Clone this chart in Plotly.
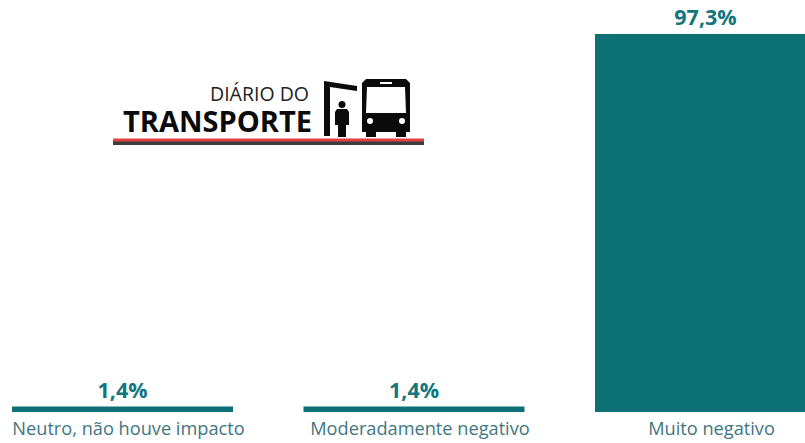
import plotly.graph_objects as go

categories = ["Neutro, não houve impacto", "Moderadamente negativo", "Muito negativo"]
values = [1.4, 1.4, 97.3]

W, H, BOTTOM = 805, 443, 412
TEAL = "#0c7074"
LABEL = "#13767c"
TICK = "#3f7680"
FONT = "Open Sans"


def X(v):
    return v / W


def Y(v):
    return (BOTTOM - v) / BOTTOM


def path(points, close=True):
    s = "M " + " L ".join(f"{X(a):.5f} {Y(b):.5f}" for a, b in points)
    return s + (" Z" if close else "")


def rect(x0, y0, x1, y1, color):
    return dict(type="rect", xref="paper", yref="paper", x0=X(x0), x1=X(x1), y0=Y(y0), y1=Y(y1),
                fillcolor=color, line_width=0, layer="above")


def circle(x0, y0, x1, y1, color):
    return dict(type="circle", xref="paper", yref="paper", x0=X(x0), x1=X(x1), y0=Y(y0), y1=Y(y1),
                fillcolor=color, line_width=0, layer="above")


def poly(points, color):
    return dict(type="path", xref="paper", yref="paper", path=path(points),
                fillcolor=color, line_width=0, layer="above")


BK = "#0b0b0b"
shapes = [
    rect(113, 141, 424, 145, "#3c3c3c"),
    rect(113, 138.5, 424, 141.5, "#e0403f"),
    # shelter
    poly([(324, 81), (357, 86), (357, 91), (330, 87), (330, 136), (324, 136)], BK),
    # person
    circle(338.5, 101, 345.5, 108, BK),
    poly([(337, 109), (347, 109), (349, 112), (349, 125), (346, 125), (346, 137), (338, 137),
          (338, 125), (335, 125), (335, 112)], BK),
    # bus
    poly([(366, 79), (406, 79), (410, 83), (410, 132), (406, 132), (406, 137), (396, 137),
          (396, 132), (376, 132), (376, 137), (366, 137), (366, 132), (362, 132), (362, 83)], BK),
    poly([(367, 87), (405, 87), (406, 113), (366, 113)], "#ffffff"),
    rect(380, 82, 392, 84, "#ffffff"),
    circle(367, 118, 373, 124, "#ffffff"),
    circle(399, 118, 405, 124, "#ffffff"),
]

annotations = [
    dict(text="DIÁRIO DO", xref="paper", yref="paper", x=X(311), y=Y(93), xanchor="right", yanchor="middle",
         showarrow=False, font=dict(family=FONT, size=19.5, color="#222222")),
    dict(text="<b>TRANSPORTE</b>", xref="paper", yref="paper", x=X(314), y=Y(121), xanchor="right", yanchor="middle",
         showarrow=False, font=dict(family=FONT, size=29, color="#0b0b0b")),
]

fig = go.Figure(go.Bar(
    x=categories,
    y=values,
    width=221 / 291.5,
    marker=dict(color=TEAL, line_width=0),
    texttemplate="<b>%{y:.1f}%</b>",
    textposition="outside",
    textangle=0,
    cliponaxis=False,
    textfont=dict(family=FONT, size=21.5, color=LABEL),
))

fig.update_layout(
    width=W,
    height=H,
    autosize=False,
    margin=dict(l=0, r=0, t=0, b=H - BOTTOM, pad=0),
    paper_bgcolor="#ffffff",
    plot_bgcolor="#ffffff",
    separators=",.",
    showlegend=False,
    shapes=shapes,
    annotations=annotations,
    xaxis=dict(type="category", range=[-122.5 / 291.5, (W - 122.5) / 291.5], showgrid=False, zeroline=False,
               showline=False, ticks="", tickangle=0, ticklabelstandoff=4, ticklabelshift=6,
               tickfont=dict(family=FONT, size=18.2, color=TICK)),
    yaxis=dict(range=[0, 106.05], visible=False),
)

fig.write_html("out.html", config=dict(displayModeBar=False),
               post_script="document.body.style.margin='0';document.body.style.overflow='hidden';")
